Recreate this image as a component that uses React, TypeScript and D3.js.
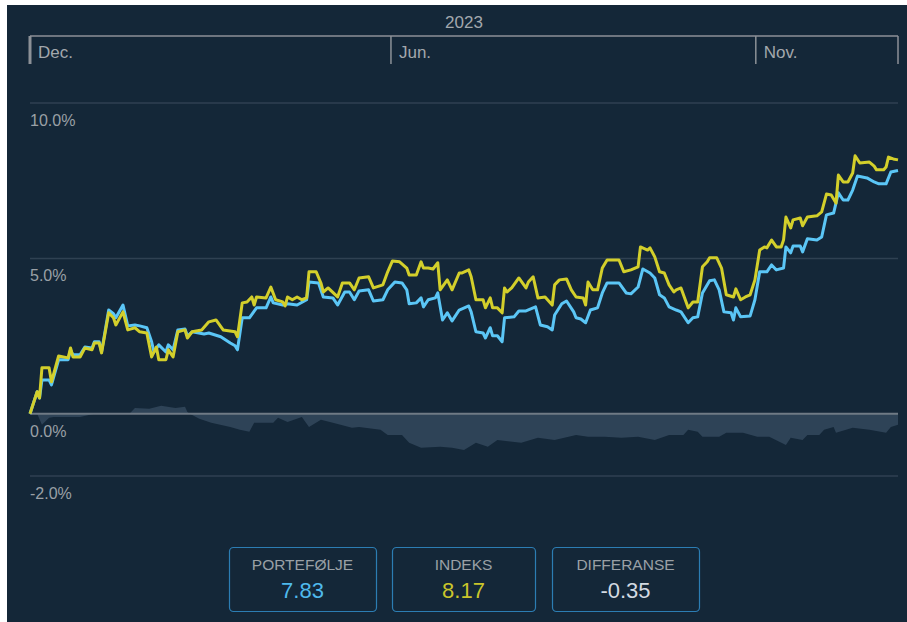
import React from "react";
import * as d3 from "d3";

const WIDTH = 907;
const HEIGHT = 622;

// [day since start, % return]
const indexSeries: [number, number][] = [
  [0, 0], [3, 0.71], [4, 0.51], [5, 1.48], [8, 1.48], [9, 1.03], [12, 1.86], [16, 1.8], [17, 2.12], [18, 1.83],
  [21, 1.83], [23, 2.12], [26, 2.06], [27, 2.28], [29, 2.28], [30, 1.96], [33, 3.25], [35, 3.09], [36, 2.86], [39, 3.28],
  [41, 2.7], [44, 2.77], [46, 2.64], [49, 2.6], [51, 1.83], [53, 2.15], [54, 1.74], [57, 1.74], [58, 2.06], [60, 1.83],
  [62, 2.64], [65, 2.7], [66, 2.44], [68, 2.64], [72, 2.7], [75, 2.96], [78, 3.02], [81, 2.7], [86, 2.64], [87, 2.48],
  [89, 3.57], [91, 3.6], [93, 3.76], [94, 3.5], [95, 3.76], [99, 3.73], [101, 4.08], [103, 3.67], [106, 3.6], [107, 3.47],
  [108, 3.76], [110, 3.67], [112, 3.76], [114, 3.67], [116, 3.73], [117, 4.57], [120, 4.57], [122, 4.21], [123, 3.92], [125, 4.05],
  [129, 3.76], [131, 4.21], [134, 4.21], [136, 3.99], [138, 4.37], [142, 4.41], [144, 4.05], [148, 4.15], [150, 4.57], [152, 4.92],
  [155, 4.89], [158, 4.69], [159, 4.47], [162, 4.47], [164, 4.89], [165, 4.69], [167, 4.69], [169, 4.66], [171, 4.86], [172, 3.99],
  [175, 4.31], [177, 3.99], [180, 4.53], [181, 4.53], [184, 4.63], [185, 4.41], [187, 3.67], [190, 3.67], [191, 3.41], [193, 3.73],
  [194, 3.41], [196, 3.41], [198, 3.25], [199, 4.05], [200, 3.92], [202, 4.05], [205, 4.37], [208, 4.05], [209, 4.24], [211, 4.41],
  [213, 3.73], [216, 3.76], [219, 3.5], [220, 4.15], [222, 4.31], [225, 4.34], [227, 3.99], [229, 3.76], [232, 3.73], [233, 3.5],
  [234, 4.24], [236, 3.99], [238, 3.99], [240, 4.69], [242, 4.95], [247, 4.95], [249, 4.57], [252, 4.63], [255, 4.73], [256, 5.37],
  [259, 5.27], [260, 5.34], [262, 5.05], [264, 4.57], [266, 4.53], [268, 4.15], [270, 3.92], [271, 3.99], [273, 4.05], [276, 3.41],
  [278, 3.6], [280, 3.6], [282, 4.73], [284, 4.89], [285, 5.02], [288, 5.02], [290, 4.69], [292, 3.83], [295, 3.76], [296, 4.02],
  [298, 3.67], [300, 3.76], [302, 3.83], [304, 4.31], [306, 5.27], [308, 5.37], [309, 5.34], [311, 5.59], [313, 5.37], [315, 5.37],
  [316, 5.59], [317, 6.33], [319, 5.98], [320, 6.24], [323, 6.3], [324, 6.05], [326, 6.33], [330, 6.37], [332, 6.5], [334, 7.07],
  [336, 7.04], [338, 6.78], [339, 7.68], [341, 7.46], [343, 7.46], [345, 7.75], [346, 8.3], [348, 8.07], [352, 8.1], [354, 7.97],
  [355, 7.85], [358, 7.85], [359, 7.94], [360, 8.26], [362, 8.2], [364, 8.17],
];

const portfolioSeries: [number, number][] = [
  [0, 0], [3, 0.71], [4, 0.51], [5, 1.09], [8, 1.09], [9, 0.93], [12, 1.74], [16, 1.74], [17, 2.06], [18, 1.9],
  [21, 1.9], [23, 2.15], [26, 2.12], [27, 2.32], [29, 2.32], [30, 1.99], [33, 3.34], [35, 3.22], [36, 3.09], [39, 3.5],
  [41, 2.83], [44, 2.86], [46, 2.83], [49, 2.77], [51, 2.32], [52, 1.99], [54, 2.22], [57, 1.99], [58, 2.22], [60, 2.06],
  [62, 2.7], [65, 2.73], [66, 2.51], [68, 2.64], [73, 2.57], [75, 2.6], [80, 2.48], [84, 2.28], [86, 2.19], [87, 2.06],
  [89, 3.09], [92, 3.09], [95, 3.41], [99, 3.41], [101, 3.76], [102, 3.57], [106, 3.5], [108, 3.54], [112, 3.5], [116, 3.67],
  [117, 4.24], [121, 4.21], [123, 3.76], [127, 3.73], [129, 3.5], [132, 3.92], [134, 3.92], [136, 3.67], [138, 3.95], [142, 3.99],
  [144, 3.63], [148, 3.67], [150, 3.99], [153, 4.24], [156, 4.21], [158, 3.99], [159, 3.54], [162, 3.57], [164, 3.73], [165, 3.44],
  [167, 3.67], [170, 3.73], [171, 3.89], [173, 3.02], [175, 3.25], [177, 2.99], [180, 3.34], [184, 3.47], [185, 3.28], [187, 2.64],
  [190, 2.6], [191, 2.44], [193, 2.77], [194, 2.51], [196, 2.51], [198, 2.32], [199, 3.09], [203, 3.12], [205, 3.31], [208, 3.31],
  [212, 3.44], [214, 2.86], [217, 2.8], [219, 2.7], [220, 3.18], [223, 3.54], [225, 3.63], [228, 3.28], [229, 3.09], [231, 3.05],
  [233, 2.93], [235, 3.34], [238, 3.41], [240, 3.89], [242, 4.21], [247, 4.21], [250, 3.89], [252, 3.86], [255, 4.08], [257, 4.66],
  [260, 4.53], [262, 4.37], [264, 3.83], [266, 3.73], [268, 3.44], [271, 3.34], [273, 3.28], [276, 2.93], [278, 3.09], [280, 3.12],
  [282, 3.89], [285, 4.28], [287, 4.31], [289, 3.99], [291, 3.28], [294, 3.25], [295, 3.02], [296, 3.41], [298, 3.12], [302, 3.15],
  [304, 3.67], [306, 4.57], [309, 4.57], [311, 4.79], [313, 4.63], [316, 4.69], [317, 5.37], [319, 5.18], [320, 5.4], [323, 5.4],
  [324, 5.21], [326, 5.63], [330, 5.59], [332, 5.69], [334, 6.4], [337, 6.46], [339, 7.11], [341, 6.88], [343, 6.88], [345, 7.2],
  [347, 7.65], [351, 7.59], [354, 7.46], [356, 7.4], [359, 7.4], [361, 7.78], [364, 7.83],
];

const diffSeries: [number, number][] = [
  [0, 0], [3, 0], [5, -0.35], [8, -0.13], [10, -0.1], [21, -0.1], [27, 0], [34, 0.03], [42, 0.03], [44, 0.19],
  [50, 0.16], [55, 0.26], [61, 0.19], [65, 0.23], [66, 0.06], [67, 0], [71, -0.16], [76, -0.29], [84, -0.42], [88, -0.51],
  [92, -0.58], [94, -0.29], [102, -0.29], [104, -0.13], [108, -0.26], [114, -0.1], [117, -0.42], [122, -0.19], [127, -0.29], [135, -0.45],
  [138, -0.42], [147, -0.51], [150, -0.68], [156, -0.68], [159, -0.93], [164, -1.09], [172, -1.06], [177, -1.09], [182, -1.16], [187, -0.93],
  [192, -1.06], [196, -0.84], [206, -0.93], [213, -0.77], [220, -0.84], [229, -0.68], [234, -0.74], [241, -0.74], [248, -0.77], [255, -0.74],
  [262, -0.84], [268, -0.68], [274, -0.68], [276, -0.51], [280, -0.58], [282, -0.74], [289, -0.74], [292, -0.61], [299, -0.61], [305, -0.74],
  [310, -0.74], [317, -1.0], [319, -0.77], [324, -0.84], [326, -0.68], [331, -0.68], [333, -0.51], [337, -0.42], [338, -0.61], [345, -0.45],
  [352, -0.51], [359, -0.61], [361, -0.42], [364, -0.35],
];

const yTicks = [10, 5, 0, -2];
const topTicks = [
  { date: "2022-12-31", label: "Dec." },
  { date: "2023-06-01", label: "Jun." },
  { date: "2023-11-01", label: "Nov." },
];
const yearLabel = "2023";

const summary = [
  { label: "PORTEFØLJE", value: "7.83", color: "#4fb9ec" },
  { label: "INDEKS", value: "8.17", color: "#c9c52b" },
  { label: "DIFFERANSE", value: "-0.35", color: "#d3dae2" },
];

const START = Date.UTC(2022, 11, 31);
const DAY = 864e5;
const FONT = "'Liberation Sans', Arial, sans-serif";

export default function App() {
  const x = d3
    .scaleUtc()
    .domain([new Date(START), new Date(START + 364 * DAY)])
    .range([30, 898]);
  const y = d3.scaleLinear().domain([-2, 10]).range([476, 103]);

  const px = (d: [number, number]) => x(new Date(START + d[0] * DAY));
  const line = d3
    .line<[number, number]>()
    .x(px)
    .y((d) => y(d[1]));
  const area = d3
    .area<[number, number]>()
    .x(px)
    .y0(y(0))
    .y1((d) => y(d[1]));

  const boxX = [229, 392, 552];
  const boxW = [147, 143, 147];

  return (
    <svg
      width={WIDTH}
      height={HEIGHT}
      style={{ position: "absolute", left: 0, top: 0 }}
      fontFamily={FONT}
    >
      <rect x={0} y={0} width={WIDTH} height={HEIGHT} fill="#ffffff" />
      <rect x={7} y={5} width={WIDTH - 7} height={HEIGHT - 5} fill="#142738" />

      {/* top date axis */}
      <text x={(30 + 898) / 2} y={28} textAnchor="middle" fill="#a3a8ad" fontSize={17}>
        {yearLabel}
      </text>
      <line x1={30} x2={898} y1={36} y2={36} stroke="#8c9197" strokeWidth={1.5} />
      {topTicks.map((t, i) => {
        const tx = x(new Date(t.date + "T00:00:00Z")) - (i === 0 ? 0 : 1.5);
        return (
          <g key={t.label}>
            <line
              x1={tx}
              x2={tx}
              y1={36}
              y2={64}
              stroke="#8c9197"
              strokeWidth={i === 0 ? 3 : 1.5}
            />
            <text x={tx + 8} y={58} fill="#a3a8ad" fontSize={17}>
              {t.label}
            </text>
          </g>
        );
      })}
      <line x1={898} x2={898} y1={36} y2={64} stroke="#8c9197" strokeWidth={1.5} />

      {/* grid */}
      {yTicks.map((t) => (
        <g key={t}>
          {t !== 0 && (
            <line x1={30} x2={898} y1={y(t)} y2={y(t)} stroke="#2f4152" strokeWidth={1.5} />
          )}
          <text x={30} y={y(t) + 23} fill="#9aa0a6" fontSize={16}>
            {t.toFixed(1) + "%"}
          </text>
        </g>
      ))}

      <path d={area(diffSeries) || ""} fill="#2e4357" />
      <line x1={30} x2={898} y1={y(0)} y2={y(0)} stroke="#6f7a85" strokeWidth={2} />

      <path d={line(portfolioSeries) || ""} fill="none" stroke="#5bc6f6" strokeWidth={3} strokeLinejoin="round" />
      <path d={line(indexSeries) || ""} fill="none" stroke="#d3cf2b" strokeWidth={3} strokeLinejoin="round" />

      {/* summary boxes */}
      {summary.map((s, i) => (
        <g key={s.label}>
          <rect
            x={boxX[i] + 0.5}
            y={547.5}
            width={boxW[i]}
            height={64}
            rx={4}
            fill="none"
            stroke="#2c7db3"
            strokeWidth={1.2}
          />
          <text x={boxX[i] + boxW[i] / 2} y={570} textAnchor="middle" fill="#9aa0a6" fontSize={15.5}>
            {s.label}
          </text>
          <text x={boxX[i] + boxW[i] / 2} y={598} textAnchor="middle" fill={s.color} fontSize={22}>
            {s.value}
          </text>
        </g>
      ))}
    </svg>
  );
}
